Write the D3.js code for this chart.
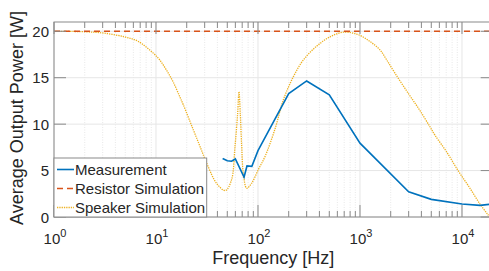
<!DOCTYPE html>
<html>
<head>
<meta charset="utf-8">
<script src="https://cdn.jsdelivr.net/npm/d3@7"></script>
<style>
  body { margin: 0; background: #fff; }
  svg { display: block; font-family: "Liberation Sans", Arial, sans-serif; }
</style>
</head>
<body>
<svg id="chart"></svg>
<script>
// data
const measFreq = [45, 50, 55, 60, 73, 78, 87, 100, 200, 300, 500, 1000, 3000, 5000, 10000, 15000, 20000];
const measPower = [6.3, 6.05, 6.0, 6.25, 4.3, 5.5, 5.45, 7.15, 13.3, 14.65, 13.15, 7.95, 2.72, 1.9, 1.4, 1.25, 1.4];

const resFreq = [1, 20000];
const resPower = [20, 20];

const spkFreq = [1, 2, 3.1, 4.9, 6.6, 9.5, 10.9, 12.7, 14.8, 17.2, 18.5, 23.2, 27, 31.4, 39.4, 48, 55, 59.5, 63.2, 65.1, 67, 69.2, 71.8, 77.5, 86.8, 100.7, 117, 147, 177, 222, 278, 376, 508, 686, 929, 1253, 1570, 1830, 2200, 2980, 3800, 4860, 5440, 7080, 9150, 11800, 15000, 18100, 20000];
const spkPower = [20.0, 19.95, 19.8, 19.4, 18.95, 17.6, 16.9, 15.8, 14.5, 12.9, 12.1, 9.4, 7.6, 5.8, 3.6, 2.85, 4.0, 7.6, 11.2, 13.5, 11.2, 7.6, 4.7, 3.1, 3.65, 5.1, 6.5, 9.5, 12.6, 15.1, 16.9, 18.4, 19.4, 19.9, 19.7, 18.9, 18.0, 16.9, 15.5, 13.3, 11.6, 9.7, 8.8, 7.0, 5.0, 3.2, 1.4, 0.2, -0.5];

const yTicks = [0, 5, 10, 15, 20];
const xDecades = [1, 10, 100, 1000, 10000];

const legendData = [
    { label: 'Measurement', color: '#0072BD', dash: null, width: 1.6 },
    { label: 'Resistor Simulation', color: '#D95319', dash: '6,4', width: 1.6 },
    { label: 'Speaker Simulation', color: '#EDB120', dash: '1.3,1', width: 1.3 }];

const width = 489;
const height = 271;
const mLeft = 54, mTop = 22, mBottom = 217, mRight = 492.7;

const svg = d3.select('#chart').attr('width', width).attr('height', height);

const x = d3.scaleLog().domain([1, 20000]).range([mLeft, mRight]);
const y = d3.scaleLinear().domain([0, 21]).range([mBottom, mTop]);

// minor ticks 2..9 of every decade
const minorTicks = [];
xDecades.forEach(d => {
    for (let k = 2; k <= 9; k++) {
        if (d * k <= 20000) minorTicks.push(d * k);
    }
});

// grid
const grid = svg.append('g');
grid.selectAll('.minor')
    .data(minorTicks)
    .enter()
    .append('line')
    .attr('x1', d => x(d)).attr('x2', d => x(d))
    .attr('y1', mTop).attr('y2', mBottom)
    .attr('stroke', '#e2e2e2')
    .attr('stroke-dasharray', '1,1.5')
    .attr('stroke-width', 0.8);
grid.selectAll('.major')
    .data(xDecades)
    .enter()
    .append('line')
    .attr('x1', d => x(d)).attr('x2', d => x(d))
    .attr('y1', mTop).attr('y2', mBottom)
    .attr('stroke', '#e6e6e6');
grid.selectAll('.ygrid')
    .data(yTicks)
    .enter()
    .append('line')
    .attr('x1', mLeft).attr('x2', mRight)
    .attr('y1', d => y(d)).attr('y2', d => y(d))
    .attr('stroke', '#e6e6e6');

// lines
svg.append('clipPath').attr('id', 'clip')
    .append('rect').attr('x', mLeft).attr('y', mTop)
    .attr('width', mRight - mLeft).attr('height', mBottom - mTop);

const plot = svg.append('g').attr('clip-path', 'url(#clip)');

const lineLin = d3.line().x(d => x(d[0])).y(d => y(d[1]));
const lineSmooth = d3.line().x(d => x(d[0])).y(d => y(d[1])).curve(d3.curveCatmullRom.alpha(0.5));

plot.append('path')
    .attr('d', lineSmooth(d3.zip(spkFreq, spkPower)))
    .attr('fill', 'none')
    .attr('stroke', legendData[2].color)
    .attr('stroke-width', legendData[2].width)
    .attr('stroke-dasharray', legendData[2].dash);

plot.append('path')
    .attr('d', lineLin(d3.zip(resFreq, resPower)))
    .attr('fill', 'none')
    .attr('stroke', legendData[1].color)
    .attr('stroke-width', legendData[1].width)
    .attr('stroke-dasharray', legendData[1].dash);

plot.append('path')
    .attr('d', lineLin(d3.zip(measFreq, measPower)))
    .attr('fill', 'none')
    .attr('stroke', legendData[0].color)
    .attr('stroke-width', legendData[0].width);

// axes box + ticks
const axisColor = '#8a8a8a';
const ax = svg.append('g').attr('stroke', axisColor).attr('stroke-width', 1);
ax.append('rect')
    .attr('x', mLeft).attr('y', mTop)
    .attr('width', mRight - mLeft).attr('height', mBottom - mTop)
    .attr('fill', 'none');

const xTickData = xDecades.map(d => ({ v: d, len: 12 }))
    .concat(minorTicks.map(d => ({ v: d, len: 6 })));
ax.selectAll('.xb')
    .data(xTickData)
    .enter()
    .append('line')
    .attr('x1', d => x(d.v)).attr('x2', d => x(d.v))
    .attr('y1', mBottom).attr('y2', d => mBottom - d.len);
ax.selectAll('.xt')
    .data(xTickData)
    .enter()
    .append('line')
    .attr('x1', d => x(d.v)).attr('x2', d => x(d.v))
    .attr('y1', mTop).attr('y2', d => mTop + d.len);
ax.selectAll('.yl')
    .data(yTicks)
    .enter()
    .append('line')
    .attr('x1', mLeft).attr('x2', mLeft + 12)
    .attr('y1', d => y(d)).attr('y2', d => y(d));
ax.selectAll('.yr')
    .data(yTicks)
    .enter()
    .append('line')
    .attr('x1', mRight).attr('x2', mRight - 12)
    .attr('y1', d => y(d)).attr('y2', d => y(d));

// tick labels
svg.selectAll('.ylab')
    .data(yTicks)
    .enter()
    .append('text')
    .attr('x', mLeft - 5)
    .attr('y', d => y(d) + 5.5)
    .attr('text-anchor', 'end')
    .attr('font-size', 15)
    .attr('fill', '#262626')
    .text(d => d);

const xl = svg.selectAll('.xlab')
    .data(xDecades)
    .enter()
    .append('text')
    .attr('x', d => x(d) + 1)
    .attr('y', 244)
    .attr('text-anchor', 'middle')
    .attr('font-size', 15)
    .attr('fill', '#262626');
xl.append('tspan').text('10');
xl.append('tspan').attr('dy', -7).attr('font-size', 11).text(d => Math.round(Math.log10(d)));

// axis titles
svg.append('text')
    .attr('x', (mLeft + mRight) / 2)
    .attr('y', 264)
    .attr('text-anchor', 'middle')
    .attr('font-size', 18)
    .attr('fill', '#262626')
    .text('Frequency [Hz]');

svg.append('text')
    .attr('transform', `translate(23,118) rotate(-90)`)
    .attr('text-anchor', 'middle')
    .attr('font-size', 18)
    .attr('fill', '#262626')
    .text('Average Output Power [W]');

// legend
const legend = svg.append('g');
legend.append('rect')
    .attr('x', mLeft).attr('y', 158)
    .attr('width', 152.7).attr('height', mBottom - 158)
    .attr('fill', '#fff')
    .attr('stroke', '#8a8a8a');

legend.selectAll('line')
    .data(legendData)
    .enter()
    .append('line')
    .attr('x1', 57).attr('x2', 74)
    .attr('y1', (d, i) => 169.5 + i * 19)
    .attr('y2', (d, i) => 169.5 + i * 19)
    .attr('stroke', d => d.color)
    .attr('stroke-width', d => d.width)
    .attr('stroke-dasharray', d => d.dash);

legend.selectAll('text')
    .data(legendData)
    .enter()
    .append('text')
    .attr('x', 75)
    .attr('y', (d, i) => 169.5 + i * 19 + 5.3)
    .attr('font-size', 15)
    .attr('fill', '#262626')
    .text(d => d.label);
</script>
</body>
</html>
